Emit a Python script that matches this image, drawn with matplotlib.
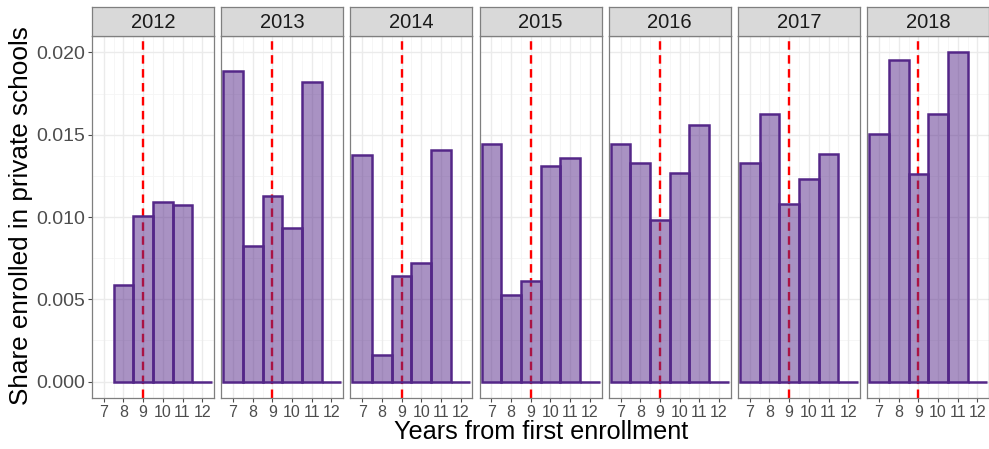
import numpy as np
import matplotlib
matplotlib.use("Agg")
import matplotlib.pyplot as plt

plt.rcParams["font.family"] = ["Liberation Sans", "DejaVu Sans"]

# Share of students enrolled in private schools, by cohort year and years from first enrollment
cohorts = ["2012", "2013", "2014", "2015", "2016", "2017", "2018"]
years_from_entry = [7, 8, 9, 10, 11, 12]
share_2012 = [np.nan, 0.00588, 0.01006, 0.01090, 0.01073, 0.0]
share_2013 = [0.01885, 0.00824, 0.01127, 0.00933, 0.01818, 0.0]
share_2014 = [0.01376, 0.00164, 0.00642, 0.00721, 0.01406, 0.0]
share_2015 = [0.01442, 0.00527, 0.00612, 0.01309, 0.01358, 0.0]
share_2016 = [0.01442, 0.01327, 0.00982, 0.01267, 0.01558, 0.0]
share_2017 = [0.01327, 0.01624, 0.01079, 0.01230, 0.01382, 0.0]
share_2018 = [0.01503, 0.01952, 0.01261, 0.01624, 0.02000, 0.0]
shares = [share_2012, share_2013, share_2014, share_2015, share_2016, share_2017, share_2018]
cutoff_year = 9
y_ticks = [0.000, 0.005, 0.010, 0.015, 0.020]

W, H = 989, 449
fig = plt.figure(figsize=(W / 100, H / 100), dpi=100)
fig.patch.set_facecolor("white")

edge_col = "#542788"
fill_col = (84 / 255, 39 / 255, 136 / 255, 0.5)
grid_major = "#EBEBEB"
grid_minor = "#F5F5F5"
border_col = "#7F7F7F"

panel_left0 = 92
panel_step = 129.2
panel_w = 122
panel_top = 36
panel_bottom = 398
strip_top = 7

def fx(px):
    return px / W

def fy(py):
    return 1 - py / H

for i, (cohort, vals) in enumerate(zip(cohorts, shares)):
    left = panel_left0 + i * panel_step
    ax = fig.add_axes([fx(left), fy(panel_bottom), fx(panel_w), (panel_bottom - panel_top) / H])
    ax.set_xlim(6.4, 12.6)
    ax.set_ylim(-0.001, 0.021)

    # grid
    for yv in np.arange(0.0025, 0.021, 0.005):
        ax.axhline(yv, color=grid_minor, lw=0.6, zorder=0)
    for xv in np.arange(7.5, 12.5, 1.0):
        ax.axvline(xv, color=grid_minor, lw=0.6, zorder=0)
    for yv in y_ticks:
        ax.axhline(yv, color=grid_major, lw=1.0, zorder=0.5)
    for xv in years_from_entry:
        ax.axvline(xv, color=grid_major, lw=1.0, zorder=0.5)

    # cutoff line drawn beneath the translucent bars
    vl = ax.axvline(cutoff_year, color="#FF0000", lw=1.7, zorder=1)
    vl.set_dashes((3.6, 2.3))

    x = np.array(years_from_entry, dtype=float)
    v = np.array(vals, dtype=float)
    mask = ~np.isnan(v)
    ax.bar(x[mask], v[mask], width=1.0, color=fill_col, edgecolor=edge_col,
           linewidth=1.8, zorder=2)

    for s in ax.spines.values():
        s.set_color(border_col)
        s.set_linewidth(0.9)

    ax.set_xticks(years_from_entry)
    ax.set_xticklabels([str(t) for t in years_from_entry], fontsize=11.5, color="#4D4D4D")
    ax.tick_params(axis="x", length=3, color="#4D4D4D", pad=2)
    ax.set_yticks(y_ticks)
    if i == 0:
        ax.set_yticklabels([f"{t:.3f}" for t in y_ticks], fontsize=14, color="#4D4D4D")
        ax.tick_params(axis="y", length=3, color="#4D4D4D", pad=2)
    else:
        ax.set_yticklabels([])
        ax.tick_params(axis="y", length=0)

    # facet strip
    sax = fig.add_axes([fx(left), fy(panel_top), fx(panel_w), (panel_top - strip_top) / H])
    sax.set_xticks([])
    sax.set_yticks([])
    sax.set_facecolor("#D9D9D9")
    for s in sax.spines.values():
        s.set_color(border_col)
        s.set_linewidth(0.9)
    sax.text(0.5, 0.47, cohort, ha="center", va="center", fontsize=14.5,
             color="#1A1A1A", transform=sax.transAxes)

fig.text(fx(21), fy(216), "Share enrolled in private schools", rotation=90,
         ha="center", va="center", fontsize=18.8, color="black")
fig.text(fx(541), fy(432), "Years from first enrollment", ha="center", va="center",
         fontsize=18.2, color="black")

fig.savefig("out.png", dpi=100)
